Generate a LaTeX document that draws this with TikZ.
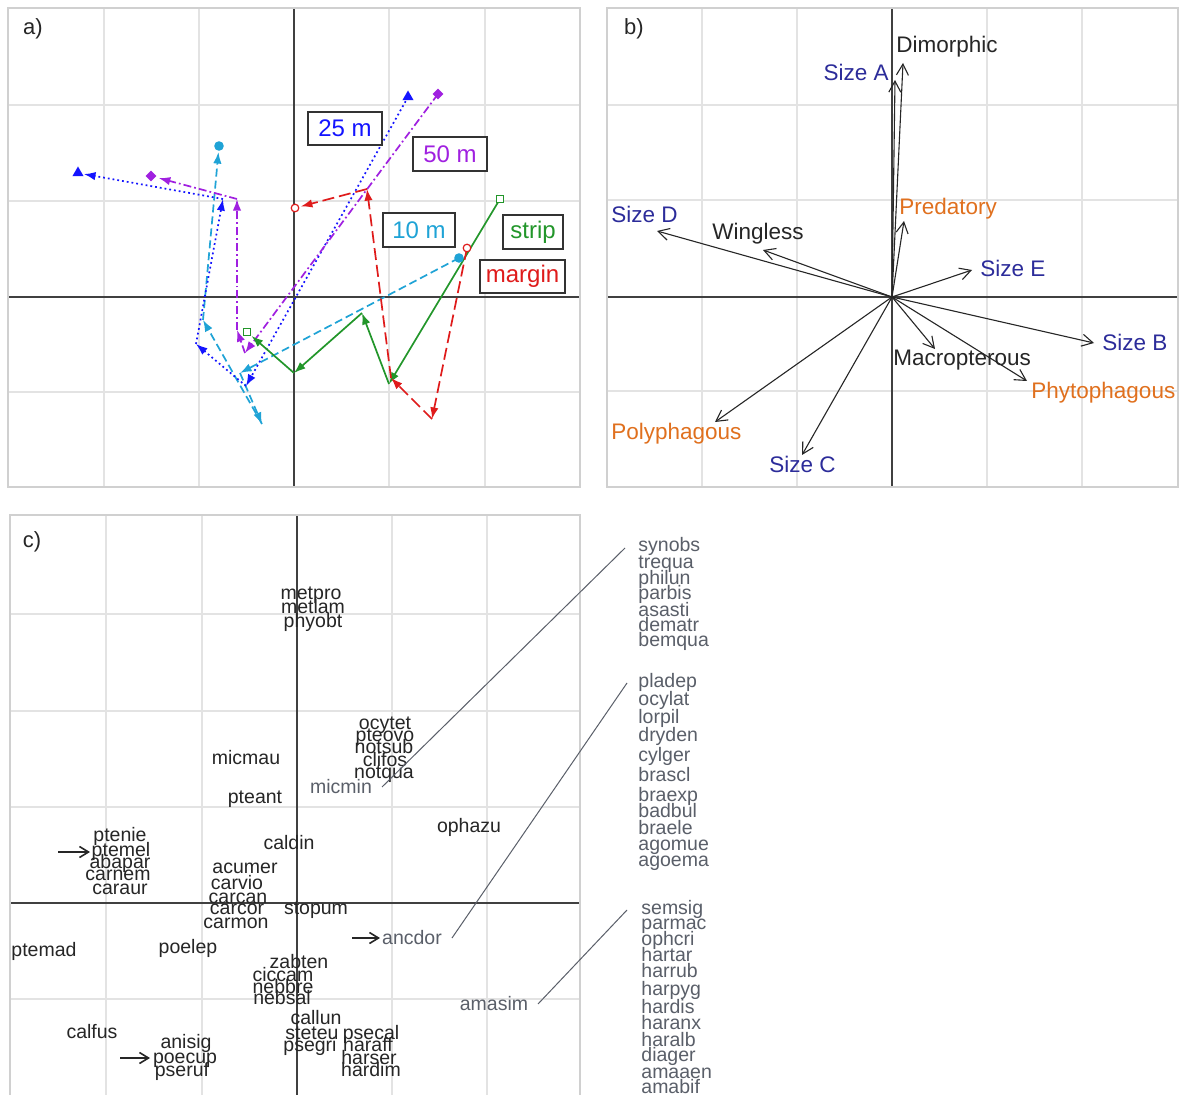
\documentclass[tikz,border=0pt]{standalone}
\usepackage{fontspec}
\setmainfont{Liberation Sans}
\usetikzlibrary{arrows.meta,shapes.geometric}
\definecolor{cblue}{HTML}{1414FF}
\definecolor{cpurple}{HTML}{A020E0}
\definecolor{ccyan}{HTML}{1FA3D6}
\definecolor{cgreen}{HTML}{22962A}
\definecolor{cred}{HTML}{DF1B1B}
\definecolor{corange}{HTML}{E0701E}
\definecolor{cnavy}{HTML}{2C2C9A}
\definecolor{cgrey}{HTML}{5A5F69}
\definecolor{gridc}{HTML}{E3E3E3}
\definecolor{framec}{HTML}{D0D0D0}
\begin{document}
\begin{tikzpicture}[x=0.5pt,y=-0.5pt,
  gridline/.style={draw=gridc, line width=0.9pt},
  frame/.style={draw=framec, line width=0.7pt},
  axisline/.style={draw=black!75, line width=0.6pt},
  traj/.style={line width=0.85pt, -{Latex[length=5.8pt,width=4.2pt]}},
  tb/.style={traj, cblue, dash pattern=on 0.9pt off 1.5pt},
  tp/.style={traj, cpurple, dash pattern=on 4pt off 1.5pt on 0.9pt off 1.5pt},
  tc/.style={traj, ccyan, dash pattern=on 4pt off 2pt},
  tr/.style={traj, cred, dash pattern=on 6pt off 2.5pt},
  tg/.style={traj, cgreen},
  tri/.style={regular polygon, regular polygon sides=3, fill=cblue, inner sep=0pt, minimum size=6.5pt},
  dia/.style={diamond, fill=cpurple, inner sep=0pt, minimum size=5.5pt},
  cdot/.style={circle, fill=ccyan, inner sep=0pt, minimum size=4.8pt},
  ocirc/.style={circle, draw=cred, line width=0.6pt, fill=white, inner sep=0pt, minimum size=3.8pt},
  osq/.style={rectangle, draw=cgreen, line width=0.6pt, fill=white, inner sep=0pt, minimum size=3.8pt},
  lbox/.style={draw=black!80, line width=1pt, fill=white, inner sep=0pt, font=\fontsize{12}{12}\selectfont},
  plab/.style={inner sep=0pt, font=\fontsize{11}{11}\selectfont, text=black!85},
  bvec/.style={draw=black!85, line width=0.55pt, -{Straight Barb[length=5.5pt,width=6pt]}},
  blab/.style={inner sep=0pt, anchor=mid west, yshift=-1pt, font=\fontsize{11.25}{12}\selectfont},
  sp/.style={inner sep=0pt, anchor=mid, yshift=-0.8pt, font=\fontsize{9.75}{10}\selectfont, text=black!85},
  spg/.style={sp, text=cgrey},
  lst/.style={inner sep=0pt, anchor=mid west, yshift=-0.8pt, font=\fontsize{9.75}{10}\selectfont, text=cgrey},
  leader/.style={draw=cgrey, line width=0.5pt},
  carrow/.style={draw=black!85, line width=0.8pt, -{Straight Barb[length=4.5pt,width=5.5pt]}}
]
\useasboundingbox (0,0) rectangle (1182,1095);
\fill[white] (0,0) rectangle (1182,1095);

% ---------------- panel a ----------------
\foreach \x in {104,199,389,485} \draw[gridline] (\x,8) -- (\x,487);
\foreach \y in {105,201,392} \draw[gridline] (8,\y) -- (580,\y);
\draw[axisline] (294,8) -- (294,487);
\draw[axisline] (8,297) -- (580,297);
\draw[frame] (8,8) rectangle (580,487);
\node[plab] (la) at (33,29) {a)};

% trajectories
\coordinate (b1) at (408,97); \coordinate (b2) at (246,386); \coordinate (b3) at (196,344);
\coordinate (b4) at (223,199); \coordinate (b5) at (78,173);
\coordinate (p1) at (438,94); \coordinate (p2) at (245,353); \coordinate (p3) at (237,330);
\coordinate (p4) at (237,199); \coordinate (p5) at (151,176);
\coordinate (c1) at (459,258); \coordinate (c2) at (240,373); \coordinate (c3) at (262,424);
\coordinate (c4) at (203,320); \coordinate (c5) at (219,146);
\coordinate (r1) at (467,248); \coordinate (r2) at (432,419); \coordinate (r3) at (391,378);
\coordinate (r4) at (367,189); \coordinate (r5) at (295,208);
\coordinate (g1) at (500,199); \coordinate (g2) at (389,384); \coordinate (g3) at (362,313);
\coordinate (g4) at (294,373); \coordinate (g5) at (247,332);

\draw[tc] (c1) -- (c2); \draw[tc] (c2) -- (c3); \draw[tc] (c3) -- (c4);
\draw[tc, shorten >=3pt] (c4) -- (c5);
\draw[tb] (b1) -- (b2); \draw[tb] (b2) -- (b3); \draw[tb] (b3) -- (b4);
\draw[tb, shorten >=3pt] (b4) -- (b5);
\draw[tp] (p1) -- (p2); \draw[tp] (p2) -- (p3); \draw[tp] (p3) -- (p4);
\draw[tp, shorten >=4pt] (p4) -- (p5);
\draw[tg] (g1) -- (g2); \draw[tg] (g2) -- (g3); \draw[tg] (g3) -- (g4);
\draw[tg, shorten >=3pt] (g4) -- (g5);
\draw[tr] (r1) -- (r2); \draw[tr] (r2) -- (r3); \draw[tr] (r3) -- (r4);
\draw[tr, shorten >=3pt] (r4) -- (r5);

\node[tri] (mb1) at (b1) {}; \node[tri] (mb5) at (b5) {};
\node[dia] (mp1) at (p1) {}; \node[dia] (mp5) at (p5) {};
\node[cdot] (mc1) at (c1) {}; \node[cdot] (mc5) at (c5) {};
\node[ocirc] (mr1) at (r1) {}; \node[ocirc] (mr5) at (r5) {};
\node[osq] (mg1) at (g1) {}; \node[osq] (mg5) at (g5) {};

\node[lbox, text=cblue, minimum width=37pt, minimum height=16.5pt] (k25) at (345,128.5) {25 m};
\node[lbox, text=cpurple, minimum width=37pt, minimum height=17pt] (k50) at (450,154.5) {50 m};
\node[lbox, text=ccyan, minimum width=36pt, minimum height=17pt] (k10) at (419,230) {10 m};
\node[lbox, text=cgreen, minimum width=30pt, minimum height=17pt] (kst) at (533,232) {strip};
\node[lbox, text=cred, minimum width=42.5pt, minimum height=16.5pt] (kma) at (522.5,276.5) {margin};

% ---------------- panel b ----------------
\foreach \x in {702,797,987,1082} \draw[gridline] (\x,8) -- (\x,487);
\foreach \y in {105,200,391} \draw[gridline] (607,\y) -- (1178,\y);
\draw[axisline] (892,8) -- (892,487);
\draw[axisline] (607,297) -- (1178,297);
\draw[frame] (607,8) rectangle (1178,487);
\node[plab] (lb) at (634,29) {b)};

\coordinate (O) at (892,297);
\coordinate (tDim) at (903,63); \coordinate (tSA) at (895,80);
\coordinate (tPre) at (904,221); \coordinate (tSE) at (972,270);
\coordinate (tSD) at (657,231); \coordinate (tWin) at (763,250);
\coordinate (tSB) at (1094,343); \coordinate (tPhy) at (1027,381);
\coordinate (tMac) at (935,349); \coordinate (tPol) at (715,422);
\coordinate (tSC) at (802,455);
\foreach \t in {tDim,tSA,tPre,tSE,tSD,tWin,tSB,tPhy,tMac,tPol,tSC}
  \draw[bvec] (O) -- (\t);

\node[blab, text=black!85] (nDim) at (896,45) {Dimorphic};
\node[blab, text=cnavy, anchor=mid east] (nSA) at (889,73) {Size A};
\node[blab, text=corange] (nPre) at (899,207) {Predatory};
\node[blab, text=cnavy] (nSD) at (611,215) {Size D};
\node[blab, text=black!85] (nWin) at (712,232) {Wingless};
\node[blab, text=cnavy] (nSE) at (980,269) {Size E};
\node[blab, text=cnavy] (nSB) at (1102,343) {Size B};
\node[blab, text=black!85] (nMac) at (893,358) {Macropterous};
\node[blab, text=corange] (nPhy) at (1031,391) {Phytophagous};
\node[blab, text=corange] (nPol) at (611,432) {Polyphagous};
\node[blab, text=cnavy] (nSC) at (769,465) {Size C};

% ---------------- panel c ----------------
\foreach \x in {106,202,392,487} \draw[gridline] (\x,515) -- (\x,1100);
\foreach \y in {614,711,807,999} \draw[gridline] (10,\y) -- (580,\y);
\draw[axisline] (297,515) -- (297,1100);
\draw[axisline] (10,903) -- (580,903);
\draw[frame] (10,1100) -- (10,515) -- (580,515) -- (580,1100);
\node[plab] (lc) at (32,542) {c)};

\node[sp] (metpro) at (311,593) {metpro};
\node[sp] (metlam) at (313,607) {metlam};
\node[sp] (phyobt) at (313,621) {phyobt};
\node[sp] (ocytet) at (385,723) {ocytet};
\node[sp] (pteovo) at (385,735) {pteovo};
\node[sp] (notsub) at (384,747) {notsub};
\node[sp] (clifos) at (385,760) {clifos};
\node[sp] (notqua) at (384,772) {notqua};
\node[spg] (micmin) at (341,787) {micmin};
\node[sp] (micmau) at (246,758) {micmau};
\node[sp] (pteant) at (255,797) {pteant};
\node[sp] (ophazu) at (469,826) {ophazu};
\node[sp] (ptenie) at (120,835) {ptenie};
\node[sp] (ptemel) at (121,850) {ptemel};
\node[sp] (abapar) at (120,862) {abapar};
\node[sp] (carnem) at (118,874) {carnem};
\node[sp] (caraur) at (120,888) {caraur};
\node[sp] (caldin) at (289,843) {caldin};
\node[sp] (acumer) at (245,867) {acumer};
\node[sp] (carvio) at (237,883) {carvio};
\node[sp] (carcan) at (238,897) {carcan};
\node[sp] (carcor) at (237,908) {carcor};
\node[sp] (carmon) at (236,922) {carmon};
\node[sp] (stopum) at (316,908) {stopum};
\node[sp] (ptemad) at (44,950) {ptemad};
\node[sp] (poelep) at (188,947) {poelep};
\node[spg] (ancdor) at (412,938) {ancdor};
\node[sp] (zabten) at (299,962) {zabten};
\node[sp] (ciccam) at (283,975) {ciccam};
\node[sp] (nebbre) at (283,987) {nebbre};
\node[sp] (nebsal) at (282,998) {nebsal};
\node[spg] (amasim) at (494,1004) {amasim};
\node[sp] (callun) at (316,1018) {callun};
\node[sp] (steteu) at (312,1033) {steteu};
\node[sp] (psecal) at (371,1033) {psecal};
\node[sp] (psegri) at (310,1045) {psegri};
\node[sp] (haraff) at (368,1045) {haraff};
\node[sp] (harser) at (369,1058) {harser};
\node[sp] (hardim) at (371,1070) {hardim};
\node[sp] (calfus) at (92,1032) {calfus};
\node[sp] (anisig) at (186,1042) {anisig};
\node[sp] (poecup) at (185,1057) {poecup};
\node[sp] (pseruf) at (182,1070) {pseruf};

\coordinate (a1s) at (58,852); \coordinate (a1e) at (90,852);
\coordinate (a2s) at (352,938); \coordinate (a2e) at (380,938);
\coordinate (a3s) at (120,1058); \coordinate (a3e) at (150,1058);
\draw[carrow] (a1s) -- (a1e);
\draw[carrow] (a2s) -- (a2e);
\draw[carrow] (a3s) -- (a3e);

% right-hand lists
\node[lst] (synobs) at (638,545) {synobs};
\node[lst] (trequa) at (638,562) {trequa};
\node[lst] (philun) at (638,578) {philun};
\node[lst] (parbis) at (638,593) {parbis};
\node[lst] (asasti) at (638,610) {asasti};
\node[lst] (dematr) at (638,625) {dematr};
\node[lst] (bemqua) at (638,640) {bemqua};
\node[lst] (pladep) at (638,681) {pladep};
\node[lst] (ocylat) at (638,699) {ocylat};
\node[lst] (lorpil) at (638,717) {lorpil};
\node[lst] (dryden) at (638,735) {dryden};
\node[lst] (cylger) at (638,755) {cylger};
\node[lst] (brascl) at (638,775) {brascl};
\node[lst] (braexp) at (638,795) {braexp};
\node[lst] (badbul) at (638,811) {badbul};
\node[lst] (braele) at (638,828) {braele};
\node[lst] (agomue) at (638,844) {agomue};
\node[lst] (agoema) at (638,860) {agoema};
\node[lst] (semsig) at (641,908) {semsig};
\node[lst] (parmac) at (641,923) {parmac};
\node[lst] (ophcri) at (641,939) {ophcri};
\node[lst] (hartar) at (641,955) {hartar};
\node[lst] (harrub) at (641,971) {harrub};
\node[lst] (harpyg) at (641,989) {harpyg};
\node[lst] (hardis) at (641,1007) {hardis};
\node[lst] (haranx) at (641,1023) {haranx};
\node[lst] (haralb) at (641,1040) {haralb};
\node[lst] (diager) at (641,1055) {diager};
\node[lst] (amaaen) at (641,1072) {amaaen};
\node[lst] (amabif) at (641,1087) {amabif};

\coordinate (l1a) at (382,787); \coordinate (l1b) at (625,548);
\coordinate (l2a) at (452,938); \coordinate (l2b) at (627,683);
\coordinate (l3a) at (538,1004); \coordinate (l3b) at (627,910);
\draw[leader] (l1a) -- (l1b);
\draw[leader] (l2a) -- (l2b);
\draw[leader] (l3a) -- (l3b);
\end{tikzpicture}
\end{document}
